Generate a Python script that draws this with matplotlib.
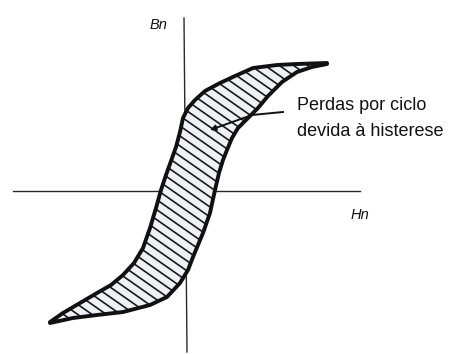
#!/usr/bin/env python3
import matplotlib
matplotlib.use('Agg')
import matplotlib.pyplot as plt
import numpy as np
from matplotlib.patches import Polygon

# in pixel units (y grows downward)
upper_x = [327, 297, 277, 253, 235, 220, 205, 195, 188, 183, 180, 176, 171, 166,
           161, 156, 150, 143, 134, 123, 111, 97, 80, 63, 50]
upper_y = [63, 64, 65, 68, 76, 83, 91, 100, 108, 118, 132, 147, 161, 175,
           190, 208, 228, 248, 263, 275, 285, 293, 303, 313, 322]
lower_x = [50, 73, 97, 123, 150, 167, 180, 188, 193, 198, 203, 210, 215, 219, 223,
           227, 232, 238, 248, 258, 268, 282, 297, 312, 327]
lower_y = [323, 318, 315, 312, 305, 297, 283, 270, 257, 245, 233, 213, 190, 173, 160,
           150, 138, 128, 118, 108, 96, 82, 72, 67, 64]

label_lines = ['Perdas por ciclo', 'devida à histerese']

fig = plt.figure(figsize=(4.75, 3.54), dpi=100)
ax = fig.add_axes([0, 0, 1, 1])
ax.set_xlim(0, 475)
ax.set_ylim(354, 0)
ax.axis('off')

# axes of the diagram
ax.plot([13, 360], [191, 191], color='#2a2a2a', lw=1.0)
ax.plot([184, 187], [18, 352], color='#2a2a2a', lw=1.0)

# loop area
loop = np.column_stack([upper_x + lower_x[1:], upper_y + lower_y[1:]])
patch = Polygon(loop, closed=True, facecolor='#eef1f6', edgecolor='none', zorder=2)
ax.add_patch(patch)

# hatching, clipped to the loop
xs = np.array([0, 475])
for c in np.arange(-300, 360, 10.0):
    ln, = ax.plot(xs, c + 0.7 * xs, color='#1a1a1a', lw=1.2, zorder=3)
    ln.set_clip_path(patch)

for bx, by in [(upper_x, upper_y), (lower_x, lower_y)]:
    ax.plot(bx, by, color='#111111', lw=2.8, solid_joinstyle='round',
            solid_capstyle='round', zorder=4)

# leader line
ax.plot([283, 252], [112, 115], color='#111111', lw=1.4, zorder=5)
ax.annotate('', xy=(210, 130), xytext=(252, 115),
            arrowprops=dict(arrowstyle='-|>', color='#111111', lw=1.4,
                            mutation_scale=8, shrinkA=0, shrinkB=0), zorder=5)

ax.text(297, 110, label_lines[0], fontsize=13, family='Liberation Sans',
        color='#111111', va='baseline', ha='left')
ax.text(297, 136, label_lines[1], fontsize=13, family='Liberation Sans',
        color='#111111', va='baseline', ha='left')

ax.text(158, 25, 'Bn', fontsize=10.5, style='italic', family='Liberation Sans',
        ha='center', va='center', color='#111111')
ax.text(360, 215, 'Hn', fontsize=10.5, style='italic', family='Liberation Sans',
        ha='center', va='center', color='#111111')

fig.savefig('out.png', dpi=100, facecolor='white')
